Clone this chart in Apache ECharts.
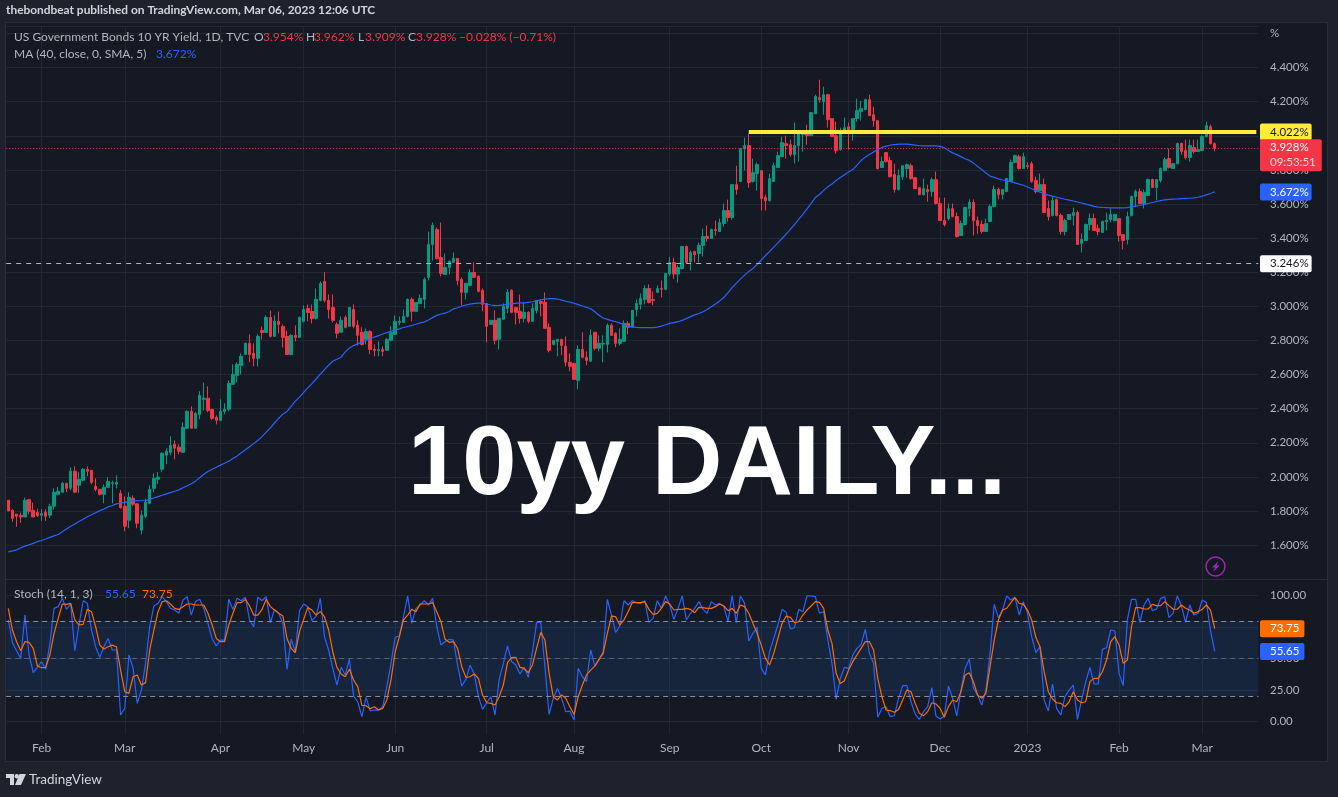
<!DOCTYPE html>
<html>
<head>
<meta charset="utf-8">
<title>10yy DAILY</title>
<style>html,body{margin:0;padding:0;background:#1e222d}#c{width:1338px;height:797px}</style>
<script src="https://cdn.jsdelivr.net/npm/echarts@6/dist/echarts.min.js"></script>
</head>
<body>
<div id="c"></div>
<script>
const opens=[
1.863,1.804,1.781,1.775,1.765,1.867,1.804,1.791,1.775,1.793,
1.775,1.828,1.898,1.910,1.963,1.933,2.033,1.951,1.980,2.045,
2.039,1.945,1.927,1.898,1.939,1.961,1.957,1.904,1.828,1.746,
1.875,1.842,1.687,1.769,1.845,1.933,1.986,2.045,2.127,2.144,
2.191,2.174,2.144,2.285,2.384,2.285,2.367,2.455,2.461,2.396,
2.349,2.332,2.384,2.396,2.543,2.595,2.654,2.718,2.783,2.724,
2.695,2.859,2.847,2.935,2.824,2.912,2.882,2.824,2.718,2.830,
2.818,2.912,2.988,2.970,2.929,3.035,3.146,3.035,2.994,2.894,
2.848,2.935,2.883,2.982,2.889,2.848,2.807,2.853,2.748,2.740,
2.748,2.742,2.801,2.836,2.906,2.906,2.941,3.041,2.971,3.017,
3.041,3.170,3.363,3.451,3.287,3.187,3.228,3.258,3.281,3.158,
3.082,3.123,3.199,3.176,3.094,3.017,2.894,2.918,2.807,2.924,
2.988,3.094,2.994,2.971,2.930,2.965,2.912,2.976,3.029,3.023,
2.877,2.777,2.795,2.807,2.766,2.672,2.666,2.566,2.748,2.701,
2.678,2.848,2.754,2.779,2.777,2.889,2.842,2.783,2.795,2.900,
2.877,2.982,3.012,3.041,3.105,3.041,3.082,3.105,3.100,3.190,
3.257,3.190,3.222,3.351,3.263,3.321,3.310,3.357,3.409,3.398,
3.450,3.439,3.486,3.562,3.521,3.714,3.732,3.923,3.943,3.732,
3.778,3.796,3.638,3.620,3.732,3.814,3.878,3.954,3.948,3.890,
3.943,4.007,4.013,4.001,4.130,4.224,4.200,4.241,4.101,4.001,
3.919,4.019,4.054,4.036,4.101,4.142,4.153,4.212,4.124,4.089,
3.814,3.902,3.855,3.773,3.685,3.761,3.808,3.825,3.755,3.696,
3.655,3.685,3.673,3.743,3.603,3.503,3.515,3.573,3.527,3.415,
3.480,3.574,3.609,3.503,3.480,3.439,3.498,3.586,3.685,3.656,
3.673,3.732,3.843,3.878,3.808,3.826,3.837,3.738,3.679,3.714,
3.574,3.533,3.627,3.533,3.439,3.509,3.533,3.550,3.369,3.386,
3.480,3.515,3.457,3.433,3.496,3.509,3.503,3.515,3.421,3.392,
3.533,3.644,3.673,3.603,3.650,3.744,3.697,3.738,3.796,3.867,
3.808,3.837,3.955,3.914,3.873,3.931,3.908,3.914,3.996,4.054,3.954];
const closes=[
1.800,1.757,1.769,1.765,1.863,1.798,1.765,1.773,1.785,1.769,
1.828,1.910,1.916,1.963,1.933,2.033,1.910,1.986,2.045,2.033,
1.968,1.927,1.898,1.939,1.974,1.965,1.968,1.820,1.711,1.881,
1.840,1.728,1.775,1.851,1.927,1.992,1.998,2.138,2.150,2.185,
2.168,2.150,2.291,2.384,2.285,2.373,2.478,2.461,2.390,2.343,
2.332,2.384,2.396,2.548,2.601,2.660,2.707,2.783,2.718,2.695,
2.824,2.847,2.935,2.824,2.912,2.894,2.818,2.718,2.830,2.818,
2.935,2.982,2.964,2.929,3.041,3.134,3.035,2.982,2.918,2.842,
2.918,2.877,2.994,2.883,2.830,2.777,2.853,2.748,2.742,2.746,
2.736,2.807,2.848,2.912,2.912,2.941,3.041,2.971,3.023,3.047,
3.158,3.363,3.475,3.279,3.193,3.228,3.264,3.281,3.152,3.082,
3.135,3.199,3.170,3.088,3.012,2.883,2.918,2.801,2.930,3.000,
3.082,2.965,2.965,2.930,2.965,2.912,2.988,3.035,3.017,2.871,
2.742,2.801,2.807,2.771,2.672,2.648,2.572,2.748,2.701,2.683,
2.830,2.754,2.783,2.783,2.889,2.830,2.783,2.807,2.900,2.877,
2.976,3.017,3.047,3.105,3.023,3.035,3.105,3.100,3.193,3.257,
3.190,3.228,3.351,3.257,3.316,3.304,3.357,3.409,3.398,3.450,
3.445,3.491,3.562,3.521,3.714,3.685,3.925,3.943,3.726,3.784,
3.831,3.632,3.620,3.749,3.825,3.884,3.960,3.943,3.890,3.943,
4.019,4.019,4.001,4.136,4.230,4.212,4.241,4.095,3.995,3.913,
4.013,4.048,4.036,4.101,4.148,4.159,4.212,4.118,4.089,3.808,
3.849,3.849,3.761,3.685,3.767,3.825,3.831,3.749,3.691,3.655,
3.691,3.673,3.743,3.603,3.503,3.480,3.573,3.527,3.409,3.486,
3.580,3.609,3.503,3.474,3.439,3.486,3.586,3.685,3.656,3.685,
3.750,3.843,3.884,3.808,3.878,3.820,3.732,3.673,3.714,3.550,
3.527,3.621,3.533,3.439,3.503,3.539,3.550,3.363,3.392,3.480,
3.515,3.445,3.439,3.498,3.503,3.539,3.539,3.416,3.386,3.527,
3.644,3.673,3.603,3.668,3.744,3.697,3.744,3.808,3.861,3.814,
3.837,3.955,3.908,3.873,3.943,3.908,3.919,3.996,4.060,3.955,3.928];
const lows=[
1.800,1.736,1.707,1.730,1.765,1.781,1.765,1.765,1.742,1.742,
1.759,1.808,1.892,1.910,1.910,1.921,1.910,1.906,1.974,2.004,
1.957,1.916,1.892,1.845,1.939,1.845,1.933,1.814,1.681,1.699,
1.828,1.699,1.664,1.757,1.839,1.910,1.957,2.027,2.074,2.127,
2.103,2.133,2.144,2.285,2.285,2.285,2.338,2.390,2.379,2.332,
2.308,2.326,2.367,2.384,2.543,2.554,2.601,2.718,2.672,2.648,
2.648,2.806,2.847,2.818,2.824,2.841,2.759,2.718,2.713,2.795,
2.818,2.906,2.912,2.900,2.923,3.029,3.023,2.929,2.906,2.812,
2.848,2.871,2.883,2.871,2.771,2.771,2.777,2.719,2.707,2.707,
2.707,2.742,2.795,2.836,2.889,2.906,2.935,2.912,2.971,3.012,
2.988,3.152,3.269,3.275,3.176,3.187,3.187,3.258,3.123,3.006,
3.041,3.123,3.170,3.082,2.971,2.789,2.894,2.777,2.748,2.924,
2.959,2.959,2.894,2.900,2.906,2.900,2.912,2.959,2.941,2.871,
2.730,2.771,2.707,2.713,2.648,2.619,2.572,2.514,2.695,2.654,
2.678,2.742,2.736,2.672,2.730,2.830,2.760,2.771,2.795,2.836,
2.877,2.941,2.982,3.012,3.017,3.006,3.082,3.053,3.094,3.180,
3.160,3.140,3.216,3.257,3.210,3.257,3.257,3.292,3.380,3.398,
3.415,3.439,3.468,3.497,3.509,3.655,3.732,3.796,3.696,3.726,
3.679,3.562,3.562,3.614,3.732,3.814,3.878,3.866,3.878,3.837,
3.849,3.907,3.948,4.001,4.130,4.194,4.124,4.048,3.995,3.896,
3.913,4.019,3.919,3.972,4.083,4.089,4.153,4.118,4.054,3.802,
3.814,3.843,3.755,3.667,3.679,3.743,3.755,3.743,3.691,3.655,
3.650,3.614,3.644,3.597,3.503,3.468,3.503,3.521,3.404,3.415,
3.474,3.527,3.416,3.425,3.427,3.439,3.498,3.580,3.627,3.627,
3.673,3.732,3.843,3.802,3.808,3.806,3.726,3.662,3.679,3.550,
3.503,3.527,3.527,3.421,3.416,3.509,3.474,3.363,3.316,3.386,
3.445,3.445,3.416,3.433,3.445,3.492,3.498,3.380,3.334,3.363,
3.527,3.582,3.603,3.574,3.650,3.697,3.621,3.726,3.796,3.808,
3.808,3.832,3.890,3.861,3.849,3.896,3.908,3.914,3.990,3.949,3.909];
const highs=[
1.863,1.810,1.781,1.791,1.879,1.867,1.849,1.814,1.812,1.810,
1.843,1.933,1.941,1.970,1.963,2.056,2.062,2.027,2.052,2.062,
2.039,1.992,1.927,1.955,1.998,1.978,2.009,1.922,1.886,1.910,
1.892,1.845,1.804,1.873,1.951,2.021,2.027,2.144,2.168,2.238,
2.214,2.191,2.320,2.390,2.414,2.379,2.502,2.554,2.531,2.396,
2.361,2.455,2.431,2.566,2.660,2.672,2.724,2.789,2.836,2.783,
2.836,2.882,2.947,2.976,2.947,2.970,2.894,2.859,2.836,2.888,
2.941,3.006,3.011,3.011,3.105,3.146,3.200,3.070,3.070,2.906,
2.941,2.947,2.994,3.012,2.918,2.877,2.871,2.859,2.777,2.795,
2.766,2.812,2.883,2.947,2.941,2.982,3.047,3.053,3.023,3.070,
3.170,3.439,3.492,3.463,3.492,3.310,3.269,3.316,3.281,3.170,
3.135,3.217,3.258,3.182,3.105,3.017,2.918,2.976,2.930,3.017,
3.100,3.100,2.994,3.070,3.023,2.971,3.017,3.035,3.041,3.082,
2.900,2.801,2.807,2.807,2.824,2.725,2.666,2.771,2.848,2.736,
2.865,2.848,2.830,2.830,2.900,2.900,2.848,2.871,2.918,2.912,
2.976,3.041,3.076,3.123,3.129,3.088,3.123,3.152,3.193,3.290,
3.286,3.240,3.355,3.357,3.327,3.327,3.374,3.456,3.474,3.456,
3.503,3.515,3.603,3.626,3.714,3.825,3.925,3.989,4.013,3.866,
3.843,3.796,3.655,3.778,3.843,3.907,3.995,4.001,3.978,4.077,
4.030,4.025,4.066,4.136,4.241,4.329,4.288,4.247,4.101,4.083,
4.048,4.107,4.077,4.101,4.218,4.206,4.218,4.241,4.171,4.089,
3.878,3.902,3.878,3.837,3.802,3.825,3.837,3.837,3.755,3.696,
3.749,3.714,3.755,3.790,3.638,3.638,3.603,3.603,3.550,3.503,
3.585,3.627,3.627,3.527,3.503,3.515,3.597,3.709,3.695,3.685,
3.750,3.861,3.890,3.890,3.902,3.845,3.849,3.761,3.779,3.750,
3.621,3.644,3.632,3.544,3.515,3.539,3.580,3.562,3.427,3.486,
3.544,3.544,3.480,3.503,3.550,3.574,3.544,3.515,3.421,3.556,
3.650,3.685,3.691,3.685,3.750,3.750,3.744,3.814,3.873,3.925,
3.837,3.960,3.960,3.978,3.978,3.978,3.978,4.007,4.084,4.066,3.962];
const maValues=[
1.560,1.566,1.572,1.584,1.594,1.602,1.610,1.620,1.627,1.636,
1.645,1.654,1.662,1.678,1.694,1.710,1.724,1.738,1.752,1.766,
1.778,1.790,1.802,1.812,1.824,1.832,1.842,1.847,1.851,1.856,
1.859,1.860,1.860,1.861,1.868,1.876,1.884,1.892,1.900,1.908,
1.916,1.924,1.936,1.948,1.960,1.975,1.995,2.015,2.032,2.045,
2.057,2.069,2.080,2.092,2.108,2.123,2.141,2.159,2.177,2.195,
2.215,2.236,2.262,2.288,2.316,2.344,2.368,2.384,2.414,2.444,
2.468,2.496,2.522,2.547,2.574,2.602,2.629,2.655,2.678,2.690,
2.702,2.733,2.756,2.770,2.780,2.790,2.800,2.810,2.820,2.828,
2.838,2.846,2.854,2.862,2.868,2.876,2.882,2.888,2.895,2.903,
2.908,2.920,2.934,2.947,2.955,2.960,2.970,2.985,2.992,3.001,
3.008,3.013,3.017,3.019,3.019,3.014,3.008,3.004,3.006,3.009,
3.012,3.016,3.018,3.020,3.021,3.023,3.027,3.032,3.038,3.043,
3.045,3.045,3.043,3.037,3.030,3.025,3.018,3.010,3.002,2.994,
2.986,2.968,2.948,2.932,2.924,2.916,2.910,2.902,2.892,2.883,
2.880,2.877,2.875,2.875,2.875,2.875,2.878,2.884,2.892,2.900,
2.905,2.910,2.918,2.928,2.940,2.950,2.958,2.968,2.982,2.998,
3.014,3.032,3.052,3.080,3.110,3.135,3.160,3.183,3.205,3.222,
3.246,3.272,3.298,3.322,3.347,3.372,3.398,3.425,3.452,3.480,
3.510,3.540,3.572,3.604,3.638,3.656,3.680,3.702,3.718,3.738,
3.755,3.772,3.788,3.802,3.828,3.855,3.875,3.890,3.905,3.920,
3.932,3.940,3.945,3.949,3.951,3.952,3.951,3.948,3.945,3.942,
3.941,3.941,3.941,3.941,3.938,3.930,3.914,3.900,3.890,3.878,
3.866,3.856,3.840,3.822,3.802,3.782,3.764,3.756,3.748,3.741,
3.736,3.731,3.724,3.717,3.710,3.700,3.690,3.680,3.670,3.660,
3.652,3.646,3.640,3.634,3.628,3.623,3.618,3.612,3.606,3.600,
3.594,3.586,3.582,3.580,3.579,3.578,3.578,3.578,3.578,3.579,
3.583,3.588,3.593,3.597,3.603,3.609,3.615,3.620,3.625,3.627,
3.629,3.630,3.632,3.633,3.634,3.636,3.640,3.646,3.654,3.662,3.672];
const stochK=[
80.7,62.6,56.2,50.1,84.6,52.8,38.7,43,47.5,41.4,
62,89.9,91.3,97.9,89.1,93.4,56.2,76.7,96,93.9,
72.7,59.4,50.9,59.4,66,56.8,56.8,5,10.3,52.8,
42.2,14.3,24.9,46.2,75.3,91.8,93.9,99.2,95.3,89.9,
88.6,86,96.6,99.2,84.6,95.3,97.1,89.9,78,66,
60,64.7,64.7,97.1,89.1,97.9,96,98.7,80.7,75.3,
98.7,96,99.2,78.5,89.1,86,78,41.4,65.3,55.4,
88.1,93.4,91.3,80.1,83.8,97.9,67.4,56.8,42.2,28.9,
43,36.9,49.6,20.1,15.6,3.7,19.1,8.2,9,9,
11.6,27.6,46.2,66.9,67.9,83.3,99.8,78,89.9,92.6,
96,92.6,97.9,75.3,60.7,63.4,65.3,
64.7,44.8,28.1,33.4,44.8,37.7,20.1,9.5,14.8,19.6,
5,33.4,46.2,60,47.5,44.8,37.7,43,35,55.4,
78.8,78.8,43.5,5.5,18.3,26.2,18.3,7.7,8.2,1,
42.2,35.5,31.6,56.8,44,49.3,55.4,97.1,84.6,70.8,
75.9,96,92.6,96,94.5,93.9,96,78.8,82,96,
89.9,99.8,92.6,81.2,89.9,99.8,80.7,86,89.9,95.3,
89.1,86,95.3,92.6,93.9,91.3,79.3,100,78.5,99.8,
93.9,63.9,70,74.8,42.2,36.9,55.4,66,76.7,89.1,
86.8,73.5,74.5,89.1,87.3,99.8,99.8,99.2,86,87.3,
64.7,46.2,17.5,34.2,43,42.2,52.8,58.1,61.3,73.2,
54.1,46.2,3.2,10.3,11.6,3.7,
4.5,18.3,28.4,28.4,15.6,5.8,1.6,7.7,11.7,26.8,
4.2,1.8,4.2,28.1,18.3,4.2,24.9,42.2,49.6,26.3,
21,13,24.9,54.1,93.1,82.5,88.6,99.8,96.6,98.7,
84.6,95.3,86,67.4,54.7,59.4,17,8.2,29.7,10.3,
5,19.6,24.9,28.9,1.6,17,31.6,43,29.7,29.7,
57.3,58.6,72.7,71.9,38.2,28.4,80.7,97.1,97.1,78.5,
92.6,97.9,88.1,89.2,97.9,99.2,82.5,86,99.8,91.8,
78.8,92.6,84.6,86,96.6,94.7,71.9,55.65];
const stochD=[
89.9,72.7,63.4,56.2,63.4,62.9,58.1,44,42.7,43,
52.8,70,82,93.4,93.1,93.9,80.7,76.7,77.2,89.1,
87.3,75.3,60.7,57.6,59.4,60.7,59.4,40.8,23.6,22.3,
35.5,36.9,28.9,30.8,56.8,72.7,87.3,95.3,96,93.4,
89.9,89.1,91.3,93.4,93.4,92.6,92.6,92.6,86,76.7,
66,63.4,63.4,76.7,86,94.5,94.5,97.1,91.8,84.6,
84.6,89.1,97.1,91.3,88.6,86,83.8,66,58.1,54.6,
71.4,81.2,90.7,88.6,84.6,87.3,83.3,72.7,55.4,43,
37.7,35.5,41.4,32.9,27.6,12.7,12.4,10.1,11.6,9,
10.3,17,32.9,55.4,67.4,80.7,84.6,89.1,87.3,93.4,
93.4,93.4,94.5,87.3,79.3,65.3,62.9,
63.4,58.1,43.5,35,35.5,37.7,34.2,20.9,14.8,14.3,
13,19.6,28.9,46.7,50.7,50.9,43,42.2,38.7,44.8,
58.1,70.8,64.7,38.2,19.6,17,20.9,18.3,11.6,5.5,
19.6,28.9,36.9,40.8,44,49.3,54.1,70,83.8,83.3,
76.7,80.7,87.3,94.5,94.5,94.5,95.3,89.1,85.2,86,
89.9,95.3,93.4,88.6,89.1,89.1,89.9,89.1,86.5,90.7,
90.5,89.9,89.9,91.3,93.4,91.8,88.1,89.9,86,92.6,
91.3,86,78,70,60.7,50.1,44.8,54.1,66,78,
83.8,82.8,78.5,79.3,84.6,88.6,91.8,95.3,94.7,89.9,
72.7,62,38.2,30.2,32.4,40.8,47.5,52.8,58.1,63.4,
63.4,56.8,34.2,19.6,9,8.5,
7.2,9.5,17,24.9,23.6,14.3,6.4,4.5,7.7,14.8,
13.8,10.3,3.2,11.7,17,15.6,23.6,36.9,38.7,31.6,
21,18.3,22.3,43.5,64.7,80.7,88.6,90,94.5,98.4,
94,93.1,88.6,80.7,66.9,59.4,39.5,23.6,17.8,14.8,
14.3,11.7,15.6,23.6,17,14.8,15.6,31.6,34.2,34.2,
39.5,48.8,63.4,67.4,60.8,46.2,48.8,75.4,90.5,90.5,
89.4,89.4,93.1,92.1,92.1,95.3,92.1,89.2,89.2,92.6,
90,88.6,86,87.3,89.2,92.6,88.6,73.75];

const monthTickIndex=[8,28,51,71,93,115,136,159,181,202,224,245,267,287];
const monthLabels=['Feb','Mar','Apr','May','Jun','Jul','Aug','Sep','Oct','Nov','Dec','2023','Feb','Mar'];
const blankBars=10;
const resistanceStart=178;
const resistance=4.022, support=3.246, lastClose=3.928, lastMa=3.672;
const stochLevels=[80,50,20];
const font='Lato, "Noto Sans", sans-serif';
const txt='#b2b5be', gridC='#23272f', up='#089981', down='#f23645', blue='#2962ff', orange='#ff6d00';

const categories=[];
for(let i=0;i<opens.length+blankBars;i++){const p=monthTickIndex.indexOf(i);categories.push(p>=0?monthLabels[p]:'');}
const candles=opens.map((o,i)=>[o,closes[i],lows[i],highs[i]]);
const isMonth=i=>monthTickIndex.includes(i);

function tag(text,bg,color,padR,dist){
  return {show:true,position:'end',distance:dist===undefined?1.6:dist,formatter:text,backgroundColor:bg,color:color,
    fontFamily:font,fontSize:11.5,padding:[3,padR,2,10],borderRadius:2,lineHeight:12};
}
const t=(x,y,text,fill,extra)=>({type:'text',x,y,z:50,silent:true,style:Object.assign({text,fill,font:'12px '+font,verticalAlign:'middle'},extra||{})});

const chart=echarts.init(document.getElementById('c'),null,{renderer:'canvas'});
chart.setOption({
  animation:false,
  backgroundColor:'#1e222d',
  grid:[{left:6.2,width:1252.2,top:26.7,height:552.5},{left:6.2,width:1252.2,top:580,height:153.9}],
  xAxis:[0,1].map(g=>({
    type:'category',gridIndex:g,data:categories,boundaryGap:true,
    axisLine:{show:false},axisTick:{show:false},
    axisLabel:{show:g===1,interval:(i)=>isMonth(i),color:txt,fontFamily:font,fontSize:12,margin:8},
    splitLine:{show:true,alignWithLabel:true,interval:(i)=>isMonth(i),lineStyle:{color:gridC,width:1}}
  })),
  yAxis:[
   {type:'value',gridIndex:0,position:'right',min:1.4,max:4.64,interval:0.2,
    axisLine:{show:false},axisTick:{show:false},
    axisLabel:{color:txt,fontFamily:font,fontSize:11.5,margin:11.6,formatter:v=>{
      if(Math.abs(v-1.4)<1e-6||v>4.61)return '';
      if(Math.abs(v-4.6)<1e-6)return '%';
      return v.toFixed(3)+'%';}},
    splitLine:{show:true,lineStyle:{color:gridC,width:1}}},
   {type:'value',gridIndex:1,position:'right',min:-10,max:112.5,interval:5,
    axisLine:{show:false},axisTick:{show:false},
    axisLabel:{color:txt,fontFamily:font,fontSize:11.5,margin:11.6,formatter:v=>v%25===0?v.toFixed(2):''},
    splitLine:{show:true,lineStyle:{color:['transparent','transparent',gridC,'transparent','transparent'],width:1}}}
  ],
  series:[
   {type:'candlestick',name:'US10Y',xAxisIndex:0,yAxisIndex:0,data:candles,barWidth:3,z:3,
    itemStyle:{color:up,color0:down,borderColor:up,borderColor0:down,borderWidth:1},
    markLine:{silent:true,symbol:'none',animation:false,data:[
      {yAxis:support,lineStyle:{color:'#b2b5be',type:[5,5],width:1},label:tag(support.toFixed(3)+'%','#ffffff','#131722',3)},
      [{coord:[resistanceStart,resistance],lineStyle:{color:'#ffeb3b',width:4,type:'solid'},label:tag(resistance.toFixed(3)+'%','#ffeb3b','#131722',3,3.7)},
       {coord:[categories.length-1,resistance]}],
      {yAxis:lastClose,lineStyle:{color:down,type:[1,2],width:1.2},
       label:Object.assign(tag('{a|'+lastClose.toFixed(3)+'%}\n{b|09:53:51}',down,'#fff',6),{padding:[1,6,1,10],offset:[0,7.5],rich:{a:{color:'#fff',fontFamily:font,fontSize:11.5,lineHeight:15},b:{color:'#fcd6da',fontFamily:font,fontSize:11.5,lineHeight:15}}})}
    ]}},
   {type:'line',name:'MA',xAxisIndex:0,yAxisIndex:0,data:maValues,showSymbol:false,symbol:'none',z:4,
    lineStyle:{color:blue,width:1.2},
    markLine:{silent:true,symbol:'none',animation:false,data:[{yAxis:lastMa,lineStyle:{width:1,color:'transparent'},label:tag(lastMa.toFixed(3)+'%',blue,'#fff',3)}]}},
   {type:'line',name:'%K',xAxisIndex:1,yAxisIndex:1,data:stochK,showSymbol:false,symbol:'none',z:4,
    lineStyle:{color:blue,width:1.2},
    markArea:{silent:true,itemStyle:{color:'rgba(30,80,160,0.2)'},data:[[{yAxis:stochLevels[2]},{yAxis:stochLevels[0]}]]},
    markLine:{silent:true,symbol:'none',animation:false,data:stochLevels.map(v=>({yAxis:v,lineStyle:{color:v===50?'#5d606b':'#8a8d97',type:[5,4],width:1},label:{show:false}})).concat([
      {yAxis:stochK[stochK.length-1],lineStyle:{width:1,color:'transparent'},label:tag(stochK[stochK.length-1].toFixed(2),blue,'#fff',5)}])}},
   {type:'line',name:'%D',xAxisIndex:1,yAxisIndex:1,data:stochD,showSymbol:false,symbol:'none',z:5,
    lineStyle:{color:orange,width:1.2},
    markLine:{silent:true,symbol:'none',animation:false,data:[
      {yAxis:stochD[stochD.length-1],lineStyle:{width:1,color:'transparent'},label:tag(stochD[stochD.length-1].toFixed(2),orange,'#fff',5)}]}}
  ],
  graphic:[
   {type:'rect',z:-1,silent:true,shape:{x:5.5,y:22.5,width:1322,height:739},style:{fill:'#151924',stroke:'#2a2e39',lineWidth:1}},
   {type:'line',z:1,silent:true,shape:{x1:6,y1:579.5,x2:1327,y2:579.5},style:{stroke:'#2a2e39',lineWidth:1}},
   t(6,10,'thebondbeat published on TradingView.com, Mar 06, 2023 12:06 UTC','#d1d4dc',{font:'bold 11.9px '+font}),
   t(14,37,'US Government Bonds 10 YR Yield, 1D, TVC',txt),
   t(254,37,'O',txt),t(263,37,'3.954%',down),
   t(306,37,'H',txt),t(314,37,'3.962%',down),
   t(358,37,'L',txt),t(365,37,'3.909%',down),
   t(408,37,'C',txt),t(416,37,'3.928%',down),
   t(459,37,'\u22120.028% (\u22120.71%)',down),
   t(14,54,'MA (40, close, 0, SMA, 5)',txt),t(156,54,'3.672%',blue),
   t(14,594,'Stoch (14, 1, 3)',txt),t(105,594,'55.65',blue),t(142,594,'73.75',orange),
   {type:'text',x:408,y:467,z:60,silent:true,style:{text:'10yy DAILY...',fill:'#ffffff',font:'bold 97.5px "Liberation Sans", Arial, sans-serif',verticalAlign:'middle'}},
   {type:'circle',z:50,silent:true,shape:{cx:1215.5,cy:566.5,r:9.5},style:{fill:'none',stroke:'#9c27b0',lineWidth:1.5}},
   {type:'polygon',z:50,silent:true,shape:{points:[[1218.5,561],[1212,567.5],[1215,567.5],[1213,572],[1219.5,565.5],[1216.5,565.5]]},style:{fill:'#9c27b0'}},
   {type:'polygon',z:50,silent:true,shape:{points:[[6,774],[14,774],[14,785],[10,785],[10,778],[6,778]]},style:{fill:'#d1d4dc'}},
   {type:'circle',z:50,silent:true,shape:{cx:16.8,cy:776.2,r:2.2},style:{fill:'#d1d4dc'}},
   {type:'polygon',z:50,silent:true,shape:{points:[[19.5,774],[26,774],[21,785],[15,785]]},style:{fill:'#d1d4dc'}},
   {type:'text',x:29,y:779.5,z:50,silent:true,style:{text:'TradingView',fill:'#d1d4dc',font:'13.5px '+font,verticalAlign:'middle'}}
  ]
});
</script>
</body>
</html>
